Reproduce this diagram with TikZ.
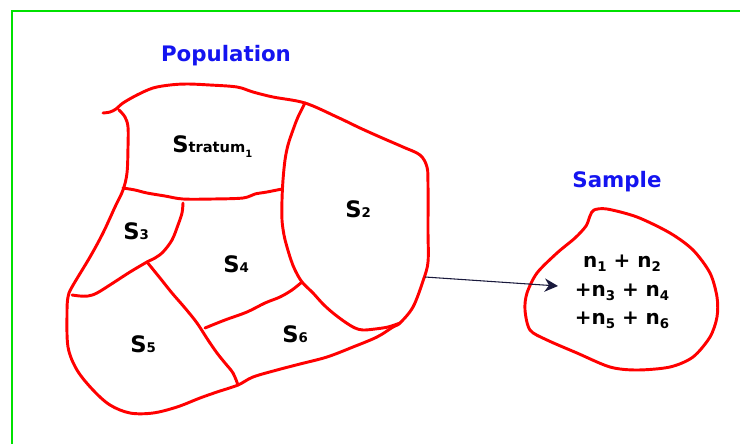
\documentclass[tikz,border=0pt]{standalone}
\usepackage{fontspec}
\setmainfont{DejaVu Sans}
\usepackage{tikz}
\usetikzlibrary{arrows.meta}

\definecolor{strokered}{RGB}{255,0,0}
\definecolor{framegreen}{RGB}{0,225,0}
\definecolor{titleblue}{RGB}{20,20,240}
\definecolor{arrownavy}{RGB}{25,25,60}

\newcommand{\stlab}[1]{{\fontsize{17}{20}\selectfont S}{\fontsize{10}{12}\selectfont #1}}
\newcommand{\nsub}[1]{n\raisebox{-3pt}{\fontsize{10}{12}\selectfont #1}}

\begin{document}
\begin{tikzpicture}[x=0.75pt, y=-0.75pt, every node/.style={font=\bfseries}]
    \tikzstyle{redline} = [strokered, line width=2.2pt, line cap=round, line join=round]
    \tikzstyle{heading} = [text=titleblue, anchor=base, inner sep=0pt, font=\fontsize{16}{19}\selectfont\bfseries]
    \tikzstyle{stlabel} = [anchor=base west, inner sep=0pt]
    \useasboundingbox (0,0) rectangle (740,444);
    \draw [framegreen, line width=1.6pt] (12,444) -- (12,11) -- (740,11);

    \node (poptitle) [heading] at (226,61) {Population};
    \node (samptitle) [heading] at (617,187) {Sample};

    % population outline
    \draw [redline] plot [smooth, tension=0.55] coordinates {
        (103,113) (110,112) (116,109) (123,103) (137,95) (153,88) (170,85)
        (187,84) (210,85) (237,87) (253,92) (273,97) (305,103) (337,117)
        (360,128) (380,137) (403,147) (420,155) (427,167) (428,185) (428,230)
        (428,262) (423,281) (413,307) (400,323) (393,327) (377,337) (353,347)
        (327,357) (300,364) (277,370) (253,377) (238,385) (217,392) (200,398)
        (177,407) (153,413) (130,413) (110,405) (93,390) (77,370) (68,347)
        (67,313) (68,297) (72,287) (90,257) (103,233) (115,207) (123,190)
        (127,173) (128,147) (128,127) (125,117) (119,110)};

    % strata borders
    \draw [redline] plot [smooth, tension=0.55] coordinates {
        (305,103) (298,117) (293,130) (288,145) (285,160) (283,180) (282,200)
        (282,220) (284,235) (287,247) (291,260) (295,270) (302,282) (313,293)
        (323,304) (333,313) (345,322) (355,328) (363,330) (375,329) (388,327)
        (400,323)};
    \draw [redline] plot [smooth, tension=0.55] coordinates {
        (123,188) (135,190) (147,193) (165,196) (183,199) (213,199) (243,198)
        (255,194) (267,192) (282,189)};
    \draw [redline] plot [smooth, tension=0.55] coordinates {
        (183,203) (182,213) (178,225) (172,240) (163,252) (155,258) (147,262)
        (130,272) (113,283) (97,293) (88,296) (80,296) (72,295)};
    \draw [redline] plot [smooth, tension=0.55] coordinates {
        (147,262) (160,278) (172,293) (185,308) (197,323) (208,340) (217,353)
        (225,363) (233,373) (238,385)};
    \draw [redline] plot [smooth, tension=0.55] coordinates {
        (205,328) (225,320) (247,312) (265,303) (280,297) (292,290) (302,282)};

    \node (s1) [stlabel] at (172,152) {{\fontsize{17}{20}\selectfont S}{\fontsize{11}{13}\selectfont tratum}\raisebox{-4pt}{\fontsize{7.5}{9}\selectfont 1}};
    \node (s2) [stlabel] at (345,217) {\stlab{2}};
    \node (s3) [stlabel] at (123,239) {\stlab{3}};
    \node (s4) [stlabel] at (223,272) {\stlab{4}};
    \node (s5) [stlabel] at (130,352) {\stlab{5}};
    \node (s6) [stlabel] at (282,342) {\stlab{6}};

    % sample outline
    \draw [redline] plot [smooth cycle, tension=0.5] coordinates {
        (594,210) (607,209) (637,217) (670,233) (693,250) (710,273) (717,297)
        (717,317) (710,337) (693,357) (670,367) (637,370) (610,367) (577,353)
        (547,340) (530,330) (525,310) (527,293) (537,273) (557,253) (575,238)
        (586,226) (590,216)};

    \node (sampsum) [align=center, inner sep=0pt, font=\fontsize{15}{21.5}\selectfont\bfseries]
        at (622,292) {\nsub{1} + \nsub{2}\\+\nsub{3} + \nsub{4}\\+\nsub{5} + \nsub{6}};

    \coordinate (popside) at (425,277);
    \coordinate (sampin) at (558,286);
    \draw [arrownavy, line width=0.8pt, -{Stealth[length=10pt, width=10pt]}] (popside) -- (sampin);
\end{tikzpicture}
\end{document}
